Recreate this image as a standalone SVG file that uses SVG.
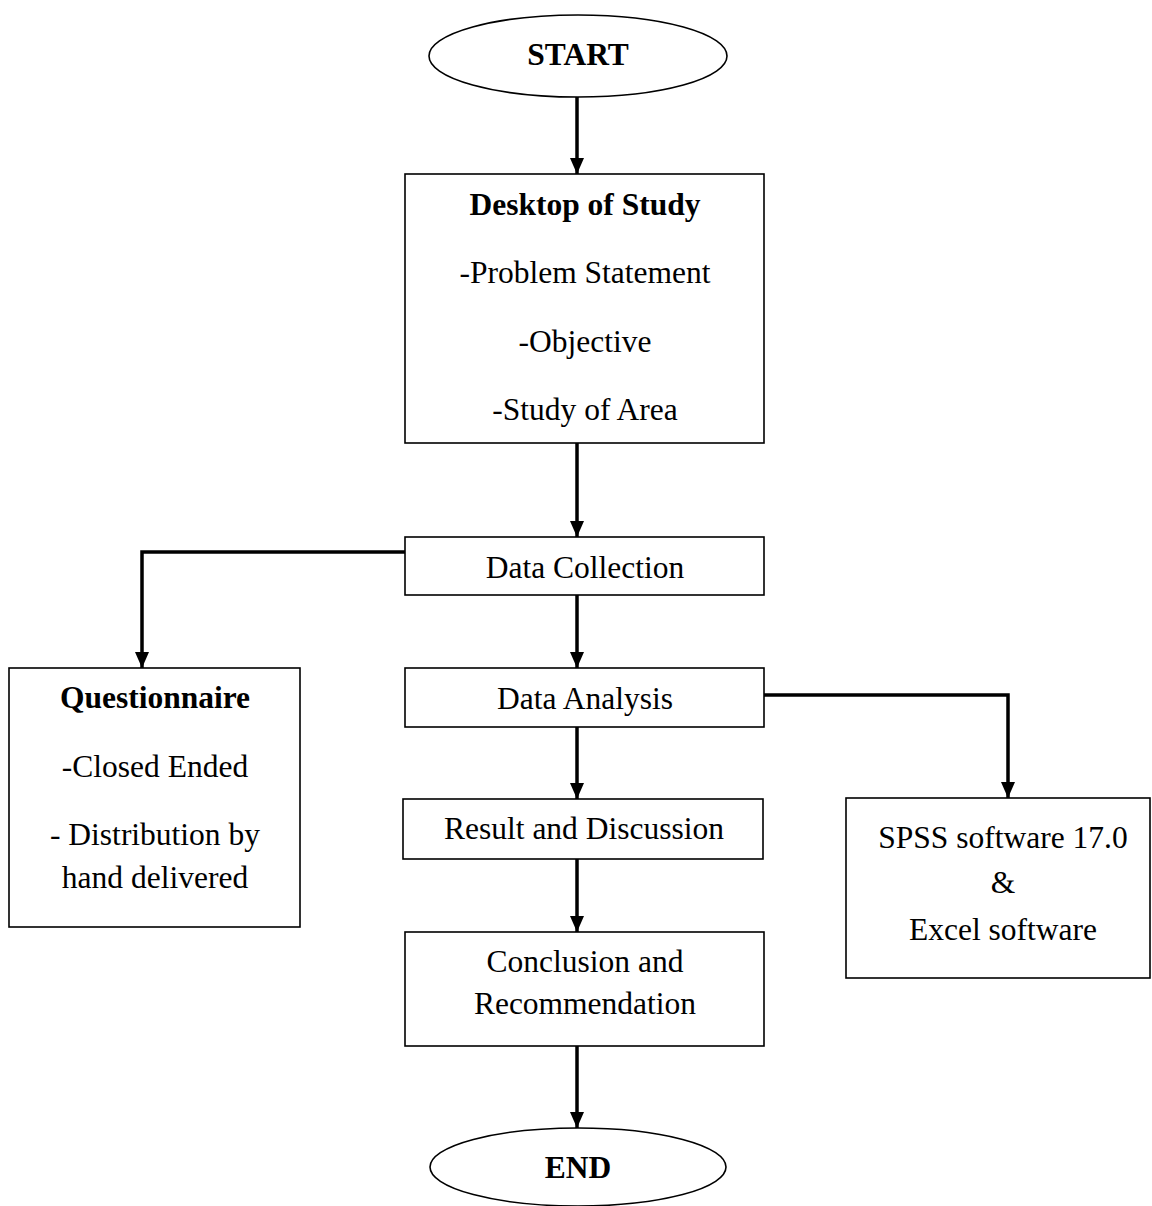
<svg xmlns="http://www.w3.org/2000/svg" width="1152" height="1206" viewBox="0 0 1152 1206">
<style>
.box{fill:#fff;stroke:#000;stroke-width:1.6}
.t{font-family:"Liberation Serif","Times New Roman",serif;font-size:31.5px;fill:#000;text-anchor:middle}
.b{font-weight:bold}
.c{fill:none;stroke:#000;stroke-width:3.5}
</style>
<defs>
<marker id="ah" markerUnits="userSpaceOnUse" markerWidth="16" markerHeight="16" viewBox="0 0 16 16" refX="16" refY="8" orient="auto">
<path d="M0,1 L16,8 L0,15 Z" fill="#000"/>
</marker>
</defs>
<rect width="1152" height="1206" fill="#fff"/>
<g id="connectors">
<path class="c" d="M577,97 V174" marker-end="url(#ah)"/>
<path class="c" d="M577,443 V537" marker-end="url(#ah)"/>
<path class="c" d="M577,595 V668" marker-end="url(#ah)"/>
<path class="c" d="M577,727 V799" marker-end="url(#ah)"/>
<path class="c" d="M577,859 V932" marker-end="url(#ah)"/>
<path class="c" d="M577,1046 V1128" marker-end="url(#ah)"/>
<path class="c" d="M405,552 H142 V668" marker-end="url(#ah)"/>
<path class="c" d="M764,695 H1008 V798" marker-end="url(#ah)"/>
</g>
<g id="start">
<ellipse class="box" cx="578" cy="56" rx="149" ry="41"/>
<text class="t b" x="578" y="65">START</text>
</g>
<g id="desktop">
<rect class="box" x="405" y="174" width="359" height="269"/>
<text class="t b" x="585" y="215">Desktop of Study</text>
<text class="t" x="585" y="283">-Problem Statement</text>
<text class="t" x="585" y="352">-Objective</text>
<text class="t" x="585" y="420">-Study of Area</text>
</g>
<g id="data-collection">
<rect class="box" x="405" y="537" width="359" height="58"/>
<text class="t" x="585" y="578">Data Collection</text>
</g>
<g id="data-analysis">
<rect class="box" x="405" y="668" width="359" height="59"/>
<text class="t" x="585" y="709">Data Analysis</text>
</g>
<g id="result">
<rect class="box" x="403" y="799" width="360" height="60"/>
<text class="t" x="584" y="839">Result and Discussion</text>
</g>
<g id="conclusion">
<rect class="box" x="405" y="932" width="359" height="114"/>
<text class="t" x="585" y="972">Conclusion and</text>
<text class="t" x="585" y="1014">Recommendation</text>
</g>
<g id="questionnaire">
<rect class="box" x="9" y="668" width="291" height="259"/>
<text class="t b" x="155" y="708">Questionnaire</text>
<text class="t" x="155" y="777">-Closed Ended</text>
<text class="t" x="155" y="845">- Distribution by</text>
<text class="t" x="155" y="888">hand delivered</text>
</g>
<g id="spss">
<rect class="box" x="846" y="798" width="304" height="180"/>
<text class="t" x="1003" y="848">SPSS software 17.0</text>
<text class="t" x="1003" y="893">&amp;</text>
<text class="t" x="1003" y="940">Excel software</text>
</g>
<g id="end">
<ellipse class="box" cx="578" cy="1167" rx="148" ry="39"/>
<text class="t b" x="578" y="1178">END</text>
</g>
</svg>
